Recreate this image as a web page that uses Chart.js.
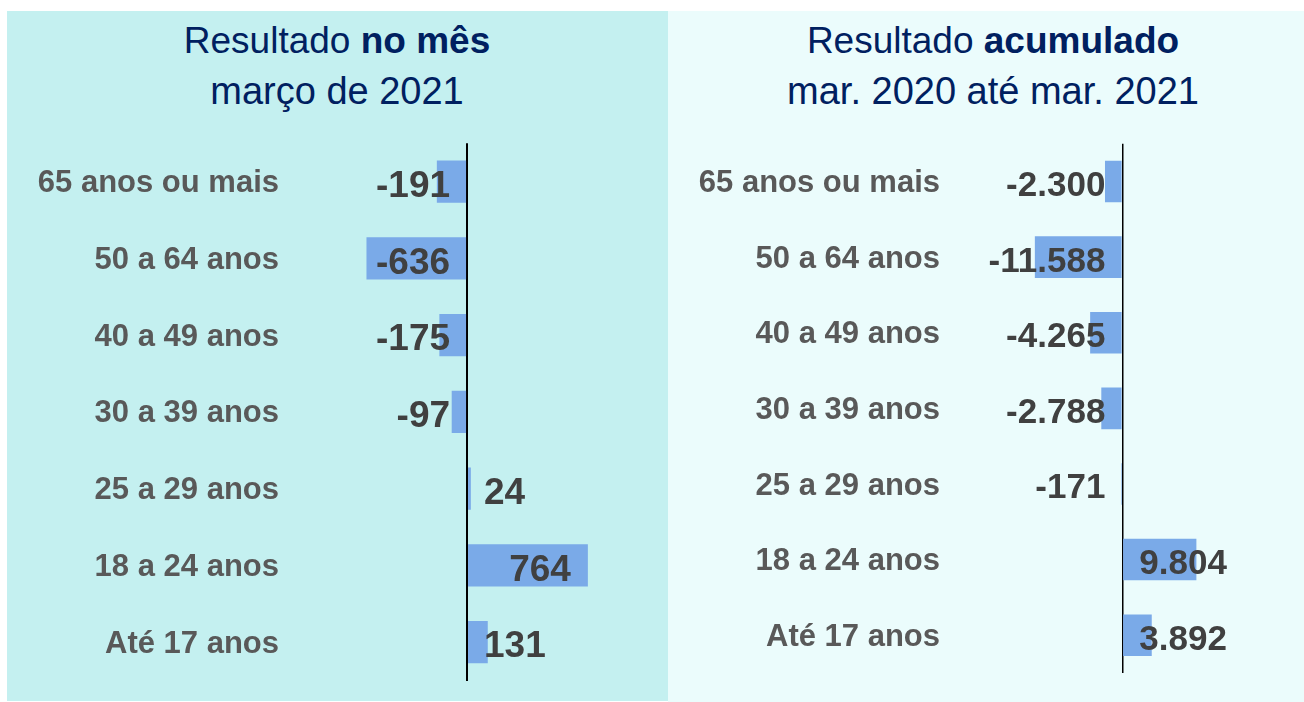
<!DOCTYPE html>
<html><head><meta charset="utf-8">
<script src="https://cdn.jsdelivr.net/npm/chart.js@4"></script>
<style>
html,body{margin:0;padding:0;background:#fff;width:1304px;height:702px;overflow:hidden;}
.panel{position:absolute;top:11px;height:690px;}
#pl{left:7px;width:661px;background:#c4f0f0;}
#pr{left:668px;width:636px;height:691px;background:#ebfcfc;}
.title{position:absolute;top:15px;width:500px;text-align:center;color:#002060;font-family:"Liberation Sans",Arial,sans-serif;white-space:nowrap;}
.title .l1{font-size:37px;line-height:51px;height:51px;}
.title .l2{font-size:38px;line-height:51px;}
canvas{position:absolute;top:0;}
</style></head>
<body>
<div class="panel" id="pl"></div>
<div class="panel" id="pr"></div>
<div class="title" style="left:87px"><div class="l1">Resultado <b>no mês</b></div><div class="l2">março de 2021</div></div>
<div class="title" style="left:743px"><div class="l1">Resultado <b>acumulado</b></div><div class="l2">mar. 2020 até mar. 2021</div></div>
<canvas id="cl" width="668" height="702" style="left:0"></canvas>
<canvas id="cr" width="636" height="702" style="left:668px"></canvas>
<script>
const categories = ['65 anos ou mais','50 a 64 anos','40 a 49 anos','30 a 39 anos','25 a 29 anos','18 a 24 anos','Até 17 anos'];
const monthValues = [-191, -636, -175, -97, 24, 764, 131];
const cumulativeValues = [-2300, -11588, -4265, -2788, -171, 9804, 3892];
const monthAxisRange = [-1050, 1100];
const cumulativeAxisRange = [-21500, 22200];

const FONT = '"Liberation Sans", Arial, sans-serif';

function fmt(v){
  const s = Math.abs(v).toString().replace(/\B(?=(\d{3})+(?!\d))/g, '.');
  return (v < 0 ? '-' : '') + s;
}

const valueLabels = {
  id: 'valueLabels',
  afterDatasetsDraw(chart, args, opts){
    const ctx = chart.ctx;
    const meta = chart.getDatasetMeta(0);
    const xs = chart.scales.x;
    const zero = xs.getPixelForValue(0);
    const data = chart.data.datasets[0].data;
    ctx.save();
    ctx.font = 'bold ' + opts.size + 'px ' + FONT;
    ctx.fillStyle = '#404040';
    ctx.textBaseline = 'alphabetic';
    meta.data.forEach((bar, i) => {
      const v = data[i];
      const t = fmt(v);
      const w = ctx.measureText(t).width;
      let x, align;
      if (v < 0) { align = 'right'; x = zero - opts.gap; }
      else if (bar.x - zero > w + 2 * opts.gap) { align = 'right'; x = bar.x - opts.gap; }
      else { align = 'left'; x = zero + opts.gap; }
      ctx.textAlign = align;
      ctx.fillText(t, x, bar.y + 0.358 * opts.size + 2);
    });
    ctx.restore();
  }
};

function makeChart(id, values, range, o){
  return new Chart(document.getElementById(id), {
    type: 'bar',
    data: {
      labels: categories,
      datasets: [{ data: values, backgroundColor: '#7aaae8', borderWidth: 0, barPercentage: 0.55, categoryPercentage: 1 }]
    },
    options: {
      indexAxis: 'y',
      responsive: false,
      animation: false,
      layout: { padding: { top: o.top, bottom: o.bottom, right: o.right, left: 0 } },
      plugins: {
        legend: { display: false },
        tooltip: { enabled: false },
        valueLabels: { size: o.valSize, gap: o.gap }
      },
      scales: {
        y: {
          grid: { display: false, drawTicks: false },
          border: { display: false },
          ticks: { font: { family: FONT, size: 31, weight: 'bold' }, color: '#595959', padding: o.labelPad, autoSkip: false, labelOffset: 2 },
          afterFit(s){ s.width = o.axisW; s.paddingTop = 0; s.paddingBottom = 0; }
        },
        x: {
          type: 'linear', min: range[0], max: range[1], z: 1,
          ticks: { display: false },
          border: { display: false },
          grid: { drawTicks: false, color: '#000', lineWidth: o.axisLine },
          afterBuildTicks(s){ s.ticks = [{ value: 0 }]; },
          afterFit(s){ s.height = 0; s.paddingLeft = 0; s.paddingRight = 0; }
        }
      }
    },
    plugins: [valueLabels]
  });
}

makeChart('cl', monthValues, monthAxisRange,
  { top: 143.3, bottom: 21.4, right: 27, axisW: 301, labelPad: 22, valSize: 37, gap: 17, axisLine: 2 });
makeChart('cr', cumulativeValues, cumulativeAxisRange,
  { top: 143.7, bottom: 29, right: 14, axisW: 292, labelPad: 20, valSize: 35, gap: 17, axisLine: 1.5 });
</script>
</body></html>
